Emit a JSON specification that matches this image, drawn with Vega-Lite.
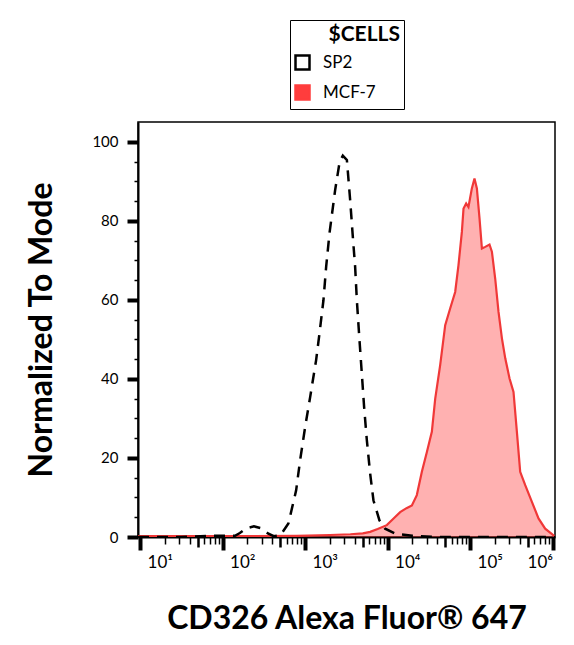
{
  "$schema": "https://vega.github.io/schema/vega-lite/v6.json",
  "width": 417,
  "height": 415,
  "autosize": {"type": "none"},
  "padding": {"left": 138, "top": 122, "right": 19, "bottom": 108},
  "background": "white",
  "config": {
    "view": {"stroke": "black", "strokeWidth": 1.5},
    "font": "Lato",
    "axis": {"domainColor": "black", "tickColor": "black", "labelColor": "black", "titleColor": "black", "grid": false},
    "legend": {"labelFontSize": 17, "titleFontSize": 21, "titleFontWeight": "bold", "labelColor": "black", "titleColor": "black"}
  },
  "datasets": {
    "hist": [
      {"cells": "SP2", "fl": 9.44, "pct": 0},
      {"cells": "SP2", "fl": 31.6, "pct": 0},
      {"cells": "SP2", "fl": 79.4, "pct": 0.3},
      {"cells": "SP2", "fl": 141.3, "pct": 0.3},
      {"cells": "SP2", "fl": 162.2, "pct": 1.0},
      {"cells": "SP2", "fl": 195, "pct": 2.2},
      {"cells": "SP2", "fl": 239.9, "pct": 2.7},
      {"cells": "SP2", "fl": 295.1, "pct": 2.2},
      {"cells": "SP2", "fl": 354.8, "pct": 0.9},
      {"cells": "SP2", "fl": 416.9, "pct": 0.2},
      {"cells": "SP2", "fl": 501.2, "pct": 0.4},
      {"cells": "SP2", "fl": 628.1, "pct": 3.4},
      {"cells": "SP2", "fl": 779.8, "pct": 11.8},
      {"cells": "SP2", "fl": 871, "pct": 19.4},
      {"cells": "SP2", "fl": 1002, "pct": 27.8},
      {"cells": "SP2", "fl": 1153, "pct": 35.4},
      {"cells": "SP2", "fl": 1361, "pct": 44.7},
      {"cells": "SP2", "fl": 1496, "pct": 51.5},
      {"cells": "SP2", "fl": 1671, "pct": 59.9},
      {"cells": "SP2", "fl": 1803, "pct": 68.4},
      {"cells": "SP2", "fl": 1977, "pct": 76.8},
      {"cells": "SP2", "fl": 2317, "pct": 87.8},
      {"cells": "SP2", "fl": 2630, "pct": 95},
      {"cells": "SP2", "fl": 2870, "pct": 96.5},
      {"cells": "SP2", "fl": 3020, "pct": 96},
      {"cells": "SP2", "fl": 3214, "pct": 95.4},
      {"cells": "SP2", "fl": 3524, "pct": 85.2},
      {"cells": "SP2", "fl": 3793, "pct": 76},
      {"cells": "SP2", "fl": 4046, "pct": 68.4},
      {"cells": "SP2", "fl": 4246, "pct": 59.9},
      {"cells": "SP2", "fl": 4571, "pct": 49.8},
      {"cells": "SP2", "fl": 4875, "pct": 41.4},
      {"cells": "SP2", "fl": 5200, "pct": 32.9},
      {"cells": "SP2", "fl": 5610, "pct": 24.5},
      {"cells": "SP2", "fl": 6152, "pct": 16.1},
      {"cells": "SP2", "fl": 6745, "pct": 9.3},
      {"cells": "SP2", "fl": 7980, "pct": 4.2},
      {"cells": "SP2", "fl": 9354, "pct": 2.1},
      {"cells": "SP2", "fl": 12589, "pct": 0.8},
      {"cells": "SP2", "fl": 19953, "pct": 0.3},
      {"cells": "SP2", "fl": 39811, "pct": 0},
      {"cells": "SP2", "fl": 1071519, "pct": 0},
      {"cells": "MCF-7", "fl": 9.44, "pct": 0.2},
      {"cells": "MCF-7", "fl": 100, "pct": 0.2},
      {"cells": "MCF-7", "fl": 794.3, "pct": 0.3},
      {"cells": "MCF-7", "fl": 1995, "pct": 0.5},
      {"cells": "MCF-7", "fl": 3548, "pct": 0.7},
      {"cells": "MCF-7", "fl": 5012, "pct": 0.9},
      {"cells": "MCF-7", "fl": 6152, "pct": 1.3},
      {"cells": "MCF-7", "fl": 7586, "pct": 2.0},
      {"cells": "MCF-7", "fl": 9795, "pct": 3.0},
      {"cells": "MCF-7", "fl": 11749, "pct": 4.6},
      {"cells": "MCF-7", "fl": 14223, "pct": 6.3},
      {"cells": "MCF-7", "fl": 16982, "pct": 7.3},
      {"cells": "MCF-7", "fl": 19724, "pct": 8.0},
      {"cells": "MCF-7", "fl": 22646, "pct": 10.6},
      {"cells": "MCF-7", "fl": 26062, "pct": 16.5},
      {"cells": "MCF-7", "fl": 29992, "pct": 21.5},
      {"cells": "MCF-7", "fl": 34435, "pct": 26.6},
      {"cells": "MCF-7", "fl": 37844, "pct": 35.0},
      {"cells": "MCF-7", "fl": 43451, "pct": 43.5},
      {"cells": "MCF-7", "fl": 50003, "pct": 53.6},
      {"cells": "MCF-7", "fl": 57412, "pct": 57.8},
      {"cells": "MCF-7", "fl": 66069, "pct": 62.0},
      {"cells": "MCF-7", "fl": 72444, "pct": 68.8},
      {"cells": "MCF-7", "fl": 79616, "pct": 77.2},
      {"cells": "MCF-7", "fl": 83368, "pct": 83.1},
      {"cells": "MCF-7", "fl": 89743, "pct": 84.4},
      {"cells": "MCF-7", "fl": 95719, "pct": 83.5},
      {"cells": "MCF-7", "fl": 105196, "pct": 88.2},
      {"cells": "MCF-7", "fl": 113240, "pct": 90.7},
      {"cells": "MCF-7", "fl": 121060, "pct": 88.2},
      {"cells": "MCF-7", "fl": 130317, "pct": 80.6},
      {"cells": "MCF-7", "fl": 139316, "pct": 73.0},
      {"cells": "MCF-7", "fl": 152757, "pct": 73.4},
      {"cells": "MCF-7", "fl": 172187, "pct": 74.0},
      {"cells": "MCF-7", "fl": 184077, "pct": 72.2},
      {"cells": "MCF-7", "fl": 201837, "pct": 65.4},
      {"cells": "MCF-7", "fl": 221309, "pct": 57.0},
      {"cells": "MCF-7", "fl": 243781, "pct": 50.2},
      {"cells": "MCF-7", "fl": 267301, "pct": 45.2},
      {"cells": "MCF-7", "fl": 301300, "pct": 40.1},
      {"cells": "MCF-7", "fl": 336512, "pct": 36.7},
      {"cells": "MCF-7", "fl": 369828, "pct": 26.6},
      {"cells": "MCF-7", "fl": 405509, "pct": 16.5},
      {"cells": "MCF-7", "fl": 466659, "pct": 13.1},
      {"cells": "MCF-7", "fl": 562341, "pct": 8.9},
      {"cells": "MCF-7", "fl": 676083, "pct": 4.7},
      {"cells": "MCF-7", "fl": 814704, "pct": 2.1},
      {"cells": "MCF-7", "fl": 1028016, "pct": 0.4},
      {"cells": "MCF-7", "fl": 1071519, "pct": 0.2}
    ]
  },
  "data": {"name": "hist"},
  "encoding": {
    "x": {
      "field": "fl",
      "type": "quantitative",
      "scale": {"type": "log", "domain": [9.44, 1071519], "nice": false},
      "axis": {
        "values": [10, 20, 30, 40, 50, 60, 70, 80, 90, 100, 200, 300, 400, 500, 600, 700, 800, 900, 1000, 2000, 3000, 4000, 5000, 6000, 7000, 8000, 9000, 10000, 20000, 30000, 40000, 50000, 60000, 70000, 80000, 90000, 100000, 200000, 300000, 400000, 500000, 600000, 700000, 800000, 900000, 1000000],
        "labelExpr": "datum.value == 10 ? '10¹' : datum.value == 100 ? '10²' : datum.value == 1000 ? '10³' : datum.value == 10000 ? '10⁴' : datum.value == 100000 ? '10⁵' : datum.value == 1000000 ? '10⁶' : ''",
        "labelAlign": {"condition": {"test": "datum.value == 1000000", "value": "right"}, "value": "left"},
        "labelOffset": {"condition": {"test": "datum.value == 1000000", "value": 0}, "value": 7},
        "tickSize": {"condition": [{"test": "indexof([10,100,1000,10000,100000,1000000], datum.value) >= 0", "value": 13}, {"test": "indexof([50,500,5000,50000,500000], datum.value) >= 0", "value": 10}], "value": 7},
        "tickWidth": {"condition": [{"test": "indexof([10,100,1000,10000,100000,1000000], datum.value) >= 0", "value": 4}, {"test": "indexof([50,500,5000,50000,500000], datum.value) >= 0", "value": 2.5}], "value": 1.5},
        "labelFontSize": 17,
        "labelBaseline": "top",
        "labelPadding": 4,
        "labelOverlap": false,
        "labelFlush": false,
        "domainWidth": 2,
        "title": "CD326 Alexa Fluor® 647",
        "titleFontSize": 32,
        "titleFontWeight": "bold",
        "titlePadding": 33
      }
    },
    "y": {
      "field": "pct",
      "type": "quantitative",
      "scale": {"domain": [0, 105], "nice": false},
      "axis": {
        "values": [0, 5, 10, 15, 20, 25, 30, 35, 40, 45, 50, 55, 60, 65, 70, 75, 80, 85, 90, 95, 100],
        "labelExpr": "datum.value % 20 == 0 ? datum.label : ''",
        "tickSize": {"condition": {"test": "datum.value % 20 == 0", "value": 11}, "value": 4},
        "tickWidth": {"condition": {"test": "datum.value % 20 == 0", "value": 4}, "value": 1.5},
        "labelFontSize": 15,
        "labelPadding": 9,
        "labelOverlap": false,
        "labelFlush": false,
        "domainWidth": 2,
        "title": "Normalized To Mode",
        "titleFontSize": 32,
        "titleFontWeight": "bold",
        "titlePadding": 33
      }
    }
  },
  "layer": [
    {
      "transform": [{"filter": "datum.cells == 'MCF-7'"}],
      "mark": {"type": "area", "clip": true},
      "encoding": {
        "y": {"field": "pct", "type": "quantitative", "stack": null},
        "fill": {
          "field": "cells",
          "type": "nominal",
          "scale": {"domain": ["SP2", "MCF-7"], "range": ["transparent", "#ff3d3d"]},
          "legend": {
            "title": "$CELLS", "orient": "none", "legendX": 152, "legendY": -102,
            "symbolType": "square", "symbolSize": 196, "symbolStrokeWidth": 2.5,
            "labelFontSize": 17, "titleFontSize": 21, "titleFontWeight": "bold",
            "labelExpr": "datum.label + '\u2800\u2800'",
            "fillColor": "white", "strokeColor": "black", "padding": 4,
            "rowPadding": 5, "labelOffset": 12, "titleAnchor": "end", "titlePadding": 9
          }
        },
        "stroke": {
          "field": "cells",
          "type": "nominal",
          "scale": {"domain": ["SP2", "MCF-7"], "range": ["black", "#ff3d3d"]},
          "legend": {
            "title": "$CELLS", "orient": "none", "legendX": 152, "legendY": -102,
            "symbolType": "square", "symbolSize": 196, "symbolStrokeWidth": 2.5,
            "labelFontSize": 17, "titleFontSize": 21, "titleFontWeight": "bold",
            "labelExpr": "datum.label + '\u2800\u2800'",
            "fillColor": "white", "strokeColor": "black", "padding": 4,
            "rowPadding": 5, "labelOffset": 12, "titleAnchor": "end", "titlePadding": 9
          }
        },
        "fillOpacity": {"value": 0.4},
        "strokeOpacity": {"value": 0}
      }
    },
    {
      "transform": [{"filter": "datum.cells == 'MCF-7'"}],
      "mark": {"type": "line", "stroke": "#f03838", "strokeWidth": 2.2, "clip": true},
      "encoding": {}
    },
    {
      "transform": [{"filter": "datum.cells == 'SP2'"}],
      "mark": {"type": "line", "stroke": "black", "strokeWidth": 2.5, "strokeDash": [11, 8], "clip": true},
      "encoding": {}
    }
  ]
}
